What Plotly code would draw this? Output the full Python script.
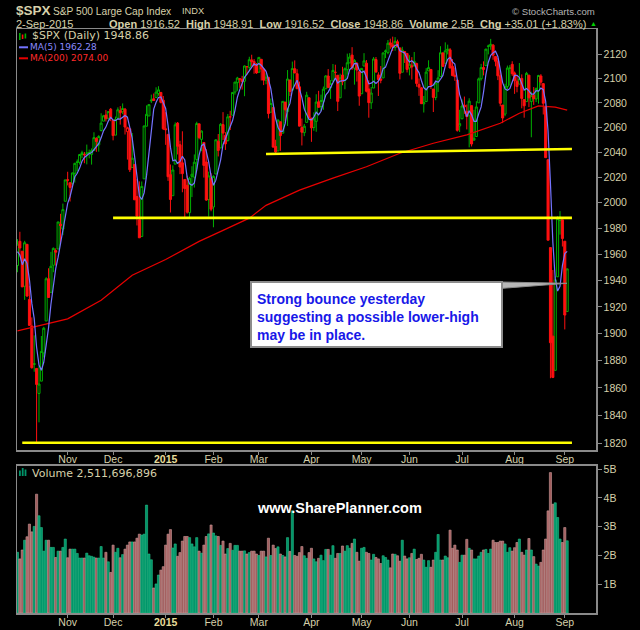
import numpy as np
import pandas as pd
import plotly.graph_objects as go

# ---------------- data ----------------
month_labels = ["Oct", "Nov", "Dec", "2015", "Feb", "Mar", "Apr", "May", "Jun", "Jul", "Aug", "Sep"]
month_sessions = [21, 19, 22, 20, 19, 22, 21, 20, 22, 22, 21, 2]   # trading sessions shown per month

prior_closes = [1977.80, 1972.29, 1946.16, 1946.17]   # sessions before the window (for MA5)

opens = [
    1951.4, 1970.0, 1962.4, 1935.6, 1967.7, 1925.6, 1905.7, 1877.1, 1874.2, 1855.9, 1864.9, 1885.6, 1909.4, 1941.3, 1931.0, 1951.6, 1962.9, 1964.1, 1983.3, 1979.5, 2001.2,
    2018.2, 2015.8, 2015.3, 2023.3, 2032.4, 2032.0, 2038.2, 2037.8, 2039.2, 2039.7, 2038.3, 2041.5, 2051.2, 2045.9, 2057.5, 2065.1, 2070.1, 2067.4, 2074.8,
    2065.8, 2053.8, 2067.5, 2073.6, 2072.8, 2074.8, 2056.6, 2058.9, 2027.9, 2030.4, 2005.0, 1986.7, 1973.8, 2018.9, 2061.0, 2069.3, 2081.5, 2083.3, 2084.3, 2087.6, 2088.5, 2082.1,
    2058.9, 2054.4, 2022.2, 2005.6, 2030.6, 2063.5, 2046.1, 2031.6, 2018.4, 2013.8, 1992.3, 2020.8, 2020.2, 2034.3, 2062.9, 2050.4, 2047.9, 2032.3, 2002.5, 2019.4,
    1996.7, 2022.7, 2048.9, 2043.5, 2062.3, 2053.5, 2049.4, 2068.6, 2069.9, 2088.8, 2096.5, 2099.2, 2099.3, 2097.7, 2109.8, 2109.1, 2115.3, 2113.9, 2110.9,
    2105.2, 2115.8, 2107.7, 2098.5, 2100.9, 2072.3, 2076.1, 2044.7, 2041.1, 2064.6, 2055.4, 2080.6, 2072.8, 2098.7, 2090.3, 2108.0, 2103.9, 2093.1, 2059.9, 2055.8, 2064.1, 2084.1,
    2067.6, 2060.0, 2064.9, 2080.8, 2076.9, 2081.3, 2091.5, 2102.0, 2092.3, 2097.8, 2105.0, 2102.6, 2084.1, 2102.8, 2098.3, 2107.2, 2112.8, 2119.3, 2108.4, 2112.5, 2105.5,
    2087.4, 2110.2, 2112.6, 2091.3, 2080.0, 2092.1, 2115.6, 2102.9, 2099.6, 2100.4, 2122.1, 2121.3, 2129.5, 2127.8, 2125.6, 2130.4, 2125.3, 2105.1, 2122.3, 2120.7,
    2108.6, 2110.4, 2110.6, 2112.4, 2095.1, 2092.3, 2079.1, 2081.0, 2106.2, 2107.4, 2091.3, 2084.3, 2097.4, 2101.6, 2121.1, 2112.5, 2123.2, 2123.7, 2110.0, 2102.6, 2098.6, 2061.2,
    2067.0, 2078.0, 2073.0, 2069.5, 2077.7, 2049.7, 2052.7, 2080.0, 2099.7, 2109.0, 2110.6, 2126.8, 2126.9, 2127.6, 2118.2, 2114.2, 2102.2, 2078.2, 2070.8, 2093.3, 2108.2, 2111.6,
    2104.5, 2097.7, 2095.3, 2100.0, 2082.6, 2081.0, 2102.7, 2081.1, 2086.2, 2083.2, 2089.7, 2102.0, 2095.7, 2076.6, 2034.1, 1965.2, 1898.1, 1872.8, 1942.8, 1986.1, 1986.7,
    1970.1, 1916.5,
]
highs = [
    1971.7, 1977.4, 1962.4, 1970.4, 1967.7, 1936.0, 1912.1, 1898.7, 1874.2, 1876.0, 1898.2, 1905.0, 1942.5, 1949.3, 1961.9, 1965.3, 1964.6, 1985.1, 1991.4, 1999.4, 2018.2,
    2024.5, 2015.9, 2023.8, 2031.6, 2034.3, 2038.7, 2041.3, 2040.3, 2046.2, 2042.2, 2043.1, 2056.1, 2052.1, 2053.8, 2071.5, 2070.2, 2074.2, 2073.3, 2075.8,
    2065.8, 2068.8, 2076.3, 2077.3, 2079.5, 2075.8, 2060.6, 2058.9, 2055.5, 2030.4, 2018.7, 2016.9, 2016.8, 2061.3, 2077.9, 2078.8, 2086.7, 2087.6, 2092.7, 2093.6, 2088.5, 2085.6,
    2072.4, 2054.4, 2030.3, 2029.6, 2064.1, 2064.4, 2049.3, 2056.9, 2018.4, 2021.4, 2020.5, 2028.9, 2038.3, 2064.6, 2062.9, 2057.6, 2047.9, 2042.5, 2024.6, 2023.3,
    2021.7, 2050.3, 2054.7, 2063.6, 2072.4, 2056.2, 2070.9, 2073.5, 2088.5, 2097.0, 2101.3, 2100.2, 2102.1, 2110.6, 2110.1, 2117.9, 2119.6, 2116.0, 2112.7,
    2117.5, 2115.8, 2107.7, 2104.3, 2100.9, 2083.5, 2076.1, 2050.1, 2066.4, 2064.6, 2081.4, 2080.6, 2106.9, 2098.7, 2113.9, 2114.9, 2107.6, 2097.4, 2067.2, 2062.8, 2089.0, 2084.1,
    2067.6, 2072.2, 2087.0, 2089.8, 2086.7, 2093.3, 2102.6, 2107.7, 2098.6, 2111.9, 2111.3, 2102.6, 2103.9, 2109.6, 2109.0, 2120.5, 2120.9, 2125.9, 2116.0, 2113.6, 2105.5,
    2108.4, 2120.9, 2115.2, 2098.4, 2092.9, 2117.7, 2117.7, 2105.1, 2110.2, 2121.5, 2123.9, 2131.8, 2133.0, 2134.7, 2134.3, 2132.2, 2125.3, 2126.2, 2122.3, 2120.7,
    2119.2, 2117.6, 2121.9, 2112.9, 2100.0, 2093.0, 2085.6, 2108.5, 2115.0, 2107.4, 2091.3, 2097.4, 2106.8, 2126.7, 2121.6, 2129.9, 2128.0, 2125.1, 2116.0, 2108.9, 2098.6, 2074.3,
    2082.8, 2085.1, 2078.6, 2083.7, 2077.7, 2074.3, 2081.3, 2100.7, 2112.0, 2114.1, 2124.4, 2128.0, 2132.8, 2128.5, 2118.5, 2116.9, 2106.0, 2078.2, 2095.6, 2110.6, 2111.0, 2114.2,
    2105.7, 2102.5, 2112.7, 2103.3, 2082.6, 2105.4, 2102.7, 2089.1, 2092.9, 2092.5, 2102.9, 2103.5, 2096.2, 2076.6, 2034.1, 1965.2, 1948.0, 1943.1, 1989.6, 1993.5, 1986.7,
    1970.1, 1948.9,
]
lows = [
    1946.3, 1958.4, 1935.1, 1925.3, 1927.6, 1906.1, 1874.1, 1871.8, 1820.7, 1835.0, 1864.9, 1882.3, 1909.4, 1927.1, 1931.0, 1946.3, 1951.4, 1964.1, 1969.0, 1974.8, 2001.2,
    2013.7, 2001.0, 2014.0, 2015.9, 2025.1, 2030.2, 2035.3, 2031.3, 2030.4, 2035.2, 2030.2, 2041.5, 2040.4, 2040.5, 2056.8, 2065.1, 2064.8, 2066.4, 2065.1,
    2049.6, 2053.8, 2066.6, 2062.3, 2070.8, 2054.3, 2034.2, 2024.3, 2027.9, 2002.3, 1982.3, 1972.6, 1973.8, 2018.9, 2061.0, 2069.3, 2079.8, 2081.8, 2084.3, 2085.8, 2079.5, 2057.9,
    2046.0, 2017.3, 1992.4, 2005.6, 2030.6, 2038.3, 2022.6, 2008.3, 1988.4, 1991.5, 1988.1, 2004.5, 2012.0, 2026.4, 2050.5, 2040.9, 2019.9, 2001.5, 1989.2, 1993.4,
    1980.9, 2022.7, 2036.7, 2043.5, 2049.9, 2041.9, 2048.6, 2057.9, 2069.9, 2086.7, 2089.8, 2092.2, 2090.8, 2085.4, 2103.0, 2105.9, 2109.9, 2103.8, 2103.8,
    2104.5, 2098.3, 2094.5, 2095.2, 2067.3, 2072.2, 2044.1, 2039.7, 2041.1, 2041.2, 2055.4, 2065.1, 2061.2, 2085.6, 2090.3, 2104.4, 2091.5, 2061.0, 2045.5, 2053.0, 2064.1, 2067.0,
    2048.4, 2057.3, 2056.5, 2076.1, 2073.3, 2074.3, 2091.5, 2092.3, 2083.2, 2097.8, 2100.0, 2073.3, 2084.1, 2094.4, 2091.1, 2103.2, 2112.8, 2107.0, 2094.9, 2097.4, 2077.6,
    2087.4, 2110.2, 2088.5, 2067.9, 2075.0, 2092.1, 2104.6, 2085.6, 2096.0, 2100.4, 2116.8, 2120.0, 2124.5, 2122.6, 2122.9, 2126.0, 2099.2, 2105.1, 2112.8, 2104.9,
    2102.5, 2099.1, 2109.6, 2093.2, 2085.7, 2079.1, 2072.1, 2081.0, 2106.2, 2091.3, 2072.5, 2082.1, 2088.9, 2101.6, 2109.5, 2112.5, 2119.9, 2108.5, 2101.8, 2098.0, 2056.6, 2056.3,
    2067.0, 2071.0, 2058.4, 2044.0, 2044.7, 2049.7, 2052.7, 2080.0, 2098.2, 2102.5, 2110.6, 2119.9, 2123.7, 2115.4, 2110.0, 2098.6, 2077.1, 2063.5, 2069.1, 2091.1, 2094.1, 2102.1,
    2087.3, 2088.6, 2095.3, 2075.5, 2067.9, 2081.0, 2076.5, 2052.1, 2078.3, 2080.6, 2079.3, 2094.1, 2070.5, 2035.7, 1970.8, 1867.0, 1867.1, 1872.8, 1942.8, 1975.2, 1966.0,
    1903.1, 1916.5,
]
closes = [
    1967.90, 1964.82, 1935.10, 1968.89, 1928.21, 1906.13, 1874.74, 1877.70, 1862.49, 1862.76, 1886.76, 1904.01, 1941.28, 1927.11, 1950.82, 1964.58, 1961.63, 1985.05, 1982.30, 1994.65, 2018.05,
    2017.81, 2012.10, 2023.57, 2031.21, 2031.92, 2038.26, 2039.68, 2038.25, 2039.33, 2039.82, 2041.32, 2051.80, 2048.72, 2052.75, 2063.50, 2069.41, 2067.03, 2072.83, 2067.56,
    2053.44, 2066.55, 2074.33, 2071.92, 2075.37, 2060.31, 2059.82, 2026.14, 2035.33, 2002.33, 1989.63, 1972.74, 2012.89, 2061.23, 2070.65, 2078.54, 2082.17, 2081.88, 2088.77, 2090.57, 2080.35, 2058.90,
    2058.20, 2020.58, 2002.61, 2025.90, 2062.14, 2044.81, 2028.26, 2023.03, 2011.27, 1992.67, 2019.42, 2022.55, 2032.12, 2063.15, 2051.82, 2057.09, 2029.55, 2002.16, 2021.25, 1994.99,
    2020.85, 2050.03, 2041.51, 2062.52, 2055.47, 2046.74, 2068.59, 2068.53, 2088.48, 2096.99, 2100.34, 2099.68, 2097.45, 2110.30, 2109.66, 2115.48, 2113.86, 2110.74, 2104.50,
    2117.39, 2107.78, 2098.53, 2101.04, 2071.26, 2079.43, 2044.16, 2040.24, 2065.95, 2053.40, 2081.19, 2074.28, 2099.50, 2089.27, 2108.10, 2104.42, 2091.50, 2061.05, 2056.15, 2061.02, 2086.24, 2067.89,
    2059.69, 2066.96, 2080.62, 2076.33, 2081.90, 2091.18, 2102.06, 2092.43, 2095.84, 2106.63, 2104.99, 2081.18, 2100.40, 2097.29, 2107.96, 2112.93, 2117.69, 2108.92, 2114.76, 2106.85, 2085.51,
    2108.29, 2114.49, 2089.46, 2080.15, 2088.00, 2116.10, 2105.33, 2099.12, 2098.48, 2121.10, 2122.73, 2129.20, 2127.83, 2125.85, 2130.82, 2126.06, 2104.20, 2123.48, 2120.79, 2107.39,
    2111.73, 2109.60, 2114.07, 2095.84, 2092.83, 2079.28, 2080.15, 2105.20, 2108.86, 2094.11, 2084.43, 2096.29, 2100.44, 2121.24, 2109.99, 2122.85, 2124.20, 2108.58, 2102.31, 2101.49, 2057.64, 2063.11,
    2077.42, 2076.78, 2068.76, 2081.34, 2046.68, 2051.31, 2076.62, 2099.60, 2108.95, 2107.40, 2124.29, 2126.64, 2128.28, 2119.21, 2114.15, 2102.15, 2079.65, 2067.64, 2093.25, 2108.57, 2108.63, 2103.84,
    2098.04, 2093.32, 2099.84, 2083.56, 2077.57, 2104.18, 2084.07, 2086.05, 2083.39, 2091.54, 2102.44, 2096.92, 2079.61, 2035.73, 1970.89, 1893.21, 1867.61, 1940.51, 1987.66, 1988.87, 1972.18,
    1913.85, 1948.86,
]
volumes_b = [
    2.11, 1.88, 2.19, 2.53, 2.65, 3.09, 2.82, 3.01, 4.13, 3.38, 2.97, 2.15, 2.53, 2.53, 2.28, 2.28, 1.93, 2.15, 2.15, 2.28, 2.57,
    1.92, 2.22, 2.22, 2.22, 2.07, 1.91, 1.91, 1.91, 2.08, 1.99, 1.97, 1.94, 1.91, 1.91, 2.31, 1.91, 2.11, 1.78, 1.41,
    2.36, 2.11, 2.25, 1.92, 2.03, 2.22, 2.36, 2.47, 2.47, 2.47, 2.60, 2.74, 2.71, 2.74, 3.75, 2.05, 1.85, 0.87, 1.01, 1.32, 1.49, 1.61,
    2.36, 2.74, 2.90, 2.26, 2.40, 1.97, 2.10, 2.50, 2.66, 2.66, 2.62, 2.40, 2.30, 2.62, 2.15, 2.08, 2.36, 2.66, 2.75, 3.06,
    2.78, 2.68, 2.66, 2.35, 2.50, 2.05, 2.24, 2.42, 2.18, 2.35, 2.35, 2.15, 2.15, 2.16, 2.05, 2.10, 2.15, 2.15, 2.05,
    2.00, 2.15, 2.15, 1.95, 2.60, 2.00, 2.36, 2.24, 2.30, 2.05, 2.00, 1.95, 2.62, 2.14, 3.55, 2.00, 1.97, 2.10, 2.31, 1.99, 1.90, 2.10,
    2.25, 1.88, 1.78, 1.90, 2.01, 1.82, 2.21, 2.21, 2.01, 2.34, 1.90, 2.07, 2.07, 2.33, 2.15, 2.34, 2.25, 2.42, 2.57, 2.11, 1.80,
    2.25, 2.28, 2.11, 2.07, 1.84, 2.04, 1.93, 1.88, 1.72, 1.99, 1.93, 1.84, 1.57, 2.05, 2.04, 1.99, 1.80, 2.53, 1.98, 1.88,
    1.92, 2.07, 2.22, 1.86, 1.90, 2.04, 1.84, 1.59, 1.82, 1.59, 1.84, 2.11, 2.73, 1.84, 1.84, 1.98, 1.92, 2.88, 2.25, 2.36, 2.19, 1.76,
    2.01, 2.01, 2.56, 2.25, 2.19, 1.88, 1.88, 1.98, 2.11, 2.19, 2.21, 2.07, 2.22, 2.53, 2.45, 2.45, 2.50, 2.50, 2.40, 2.11, 2.27, 2.15,
    2.27, 2.45, 2.57, 2.11, 2.01, 2.19, 2.59, 2.19, 1.96, 1.70, 1.63, 1.76, 2.19, 2.57, 3.55, 4.88, 3.78, 3.83, 3.32, 2.57, 2.45,
    2.97, 2.51,
]
# 200-day moving average at a few sessions
ma200_session = [0, 21, 35, 48, 62, 76, 86, 97, 104, 118, 132, 146, 160, 174, 188, 202, 210, 218, 225, 230]
ma200_value = [1902, 1911, 1925, 1944, 1956, 1970, 1978.5, 1988, 1998, 2010, 2019.5, 2028.5, 2039.3,
               2047.3, 2054, 2063.4, 2071.5, 2077.5, 2076.5, 2074.0]
# hand-drawn support lines (session, level) start and end
line_start_session = [2, 40, 104]
line_start_level = [1820.4, 1988.2, 2038.7]
line_end_session = [232, 232, 232]
line_end_level = [1820.4, 1988.2, 2042.7]

callout_text = "Strong bounce yesterday<br>suggesting a possible lower-high<br>may be in place."

# ---------------- build ----------------
n = len(closes)
assert len(opens) == n and len(highs) == n and len(lows) == n and len(volumes_b) == n == sum(month_sessions)
o = np.array(opens); c = np.array(closes)
h = np.maximum(np.array(highs), np.maximum(o, c))
l = np.minimum(np.array(lows), np.minimum(o, c))
sess = np.arange(n)
prev_c = np.concatenate([[prior_closes[-1]], c[:-1]])
up = c >= prev_c

all_c = pd.Series(prior_closes + closes)
ma5 = all_c.rolling(5).mean().to_numpy()[len(prior_closes):]

month_start = np.concatenate([[0], np.cumsum(month_sessions)[:-1]])
tickvals = list(month_start[1:])
ticktext = [("<b><span style='color:#e8dc9a'>%s</span></b>" % m) if m.isdigit() else m for m in month_labels[1:]]

GREEN = "#00b000"
RED = "#ff1010"
KHAKI = "#d6d0aa"
BORDER = "#8a8a8a"

W, H = 640, 630
ML, MR, MT, MB = 17, 44, 29, 17
PW, PH = W - ML - MR, H - MT - MB
def fx(px): return (px - ML) / PW
def fy(py): return (H - MB - py) / PH

fig = go.Figure()

for mask, col in [(up, GREEN), (~up, RED)]:
    fig.add_trace(go.Candlestick(
        x=sess[mask], open=o[mask], high=h[mask], low=l[mask], close=c[mask],
        increasing=dict(line=dict(color=col, width=1), fillcolor="black"),
        decreasing=dict(line=dict(color=col, width=1), fillcolor=col),
        whiskerwidth=0, hoverinfo="skip", showlegend=False, xaxis="x", yaxis="y"))

fig.add_trace(go.Scatter(x=ma200_session, y=ma200_value, mode="lines",
                         line=dict(color="#e80000", width=1.2), hoverinfo="skip",
                         showlegend=False, xaxis="x", yaxis="y"))
fig.add_trace(go.Scatter(x=sess, y=ma5, mode="lines",
                         line=dict(color="#7474ff", width=1.2), hoverinfo="skip",
                         showlegend=False, xaxis="x", yaxis="y"))

for x0, y0, x1, y1 in zip(line_start_session, line_start_level, line_end_session, line_end_level):
    fig.add_trace(go.Scatter(x=[x0, x1], y=[y0, y1], mode="lines",
                             line=dict(color="#ffff00", width=2.6), hoverinfo="skip",
                             showlegend=False, xaxis="x", yaxis="y"))

vol_fill = np.where(up, "#00956a", "#a25e5e")
vol_edge = np.where(up, "#25c088", "#cc9a9a")
fig.add_trace(go.Bar(x=sess, y=volumes_b, marker=dict(color=list(vol_fill),
                     line=dict(color=list(vol_edge), width=0.6)),
                     hoverinfo="skip", showlegend=False, xaxis="x2", yaxis="y2"))

axis_font = dict(family="Liberation Sans, Arial", size=10.5, color=KHAKI)
common_x = dict(range=[-0.2, -0.2 + PW / 2.39], tickmode="array", tickvals=tickvals, ticktext=ticktext,
                ticks="outside", ticklen=3, tickcolor=BORDER, showline=True, mirror=True,
                linecolor=BORDER, linewidth=1.5, showgrid=False, zeroline=False, tickfont=axis_font,
                automargin=False, ticklabelstandoff=-4)
price_ticks = list(range(1820, 2121, 20))

fig.update_layout(
    width=W, height=H, autosize=False,
    margin=dict(l=ML, r=MR, t=MT, b=MB, pad=0),
    paper_bgcolor="black", plot_bgcolor="black",
    font=dict(family="Liberation Sans, Arial", color=KHAKI),
    boxgap=0.1, boxgroupgap=0.05, bargap=0.1,
    xaxis=dict(common_x, domain=[0, 1], anchor="y", rangeslider=dict(visible=False)),
    yaxis=dict(domain=[fy(450), 1], type="log",
               range=[np.log10(1815.2), np.log10(2141.1)], side="right",
               tickmode="array", tickvals=price_ticks, ticktext=[str(v) for v in price_ticks],
               ticks="outside", ticklen=4, tickcolor=BORDER, showline=True, mirror=True,
               linecolor=BORDER, linewidth=1.5, showgrid=False, zeroline=False, tickfont=axis_font,
               automargin=False),
    xaxis2=dict(common_x, domain=[0, 1], anchor="y2", matches="x"),
    yaxis2=dict(domain=[0, fy(465.7)], range=[0, 5.12], side="right",
                tickmode="array", tickvals=[1, 2, 3, 4, 5], ticktext=["1B", "2B", "3B", "4B", "5B"],
                ticks="outside", ticklen=4, tickcolor=BORDER, showline=True, mirror=True,
                linecolor=BORDER, linewidth=1.5, showgrid=False, zeroline=False, tickfont=axis_font,
                automargin=False),
)

anns = []
def add_text(text, px, py, size, color=KHAKI, family="Liberation Sans, Arial", xanchor="left", align="left"):
    anns.append(dict(text=text, x=fx(px), y=fy(py), xref="paper", yref="paper",
                     xanchor=xanchor, yanchor="middle", showarrow=False, align=align,
                     font=dict(size=size, color=color, family=family), borderpad=0))

# header
add_text("<b>$SPX</b>", 15, 11, 13.5)
add_text("S&P 500 Large Cap Index", 52, 11.5, 10.2)
add_text("INDX", 181, 11.5, 9.3)
add_text("© StockCharts.com", 596, 11.5, 9.6, color="#b4b4b4", xanchor="right")
add_text("2-Sep-2015", 15, 23.5, 11)
add_text("<b>Open</b> 1916.52&nbsp; <b>High</b> 1948.91&nbsp; <b>Low</b> 1916.52&nbsp; "
         "<b>Close</b> 1948.86&nbsp; <b>Volume</b> 2.5B&nbsp; <b>Chg</b> +35.01 (+1.83%)",
         587, 23.5, 11, xanchor="right")
add_text("▲", 593, 23, 7, color="#00d000", xanchor="center")

# panel legends
add_text("$SPX (Daily) 1948.86", 31, 36, 11, family="DejaVu Sans")
add_text("MA(5) 1962.28", 29, 47.3, 9, color="#8a8aff", family="DejaVu Sans")
add_text("MA(200) 2074.00", 29, 58.3, 9, color="#ff2a2a", family="DejaVu Sans")
add_text("Volume 2,511,696,896", 31, 473, 11, family="DejaVu Sans")

# watermark
add_text("<b>www.SharePlanner.com</b>", 339, 507.5, 14.5, color="white", xanchor="center")

# callout text
add_text("<b>" + callout_text + "</b>", 256, 316.5, 14, color="#1818e8")

fig.update_layout(annotations=anns)

shapes = []
def rect(x0, y0, x1, y1, fill, line=None, lw=0):
    shapes.append(dict(type="rect", xref="paper", yref="paper", x0=fx(x0), x1=fx(x1), y0=fy(y1), y1=fy(y0),
                       fillcolor=fill, line=dict(color=line or fill, width=lw), layer="above"))

# legend icons
rect(19, 33, 20.6, 40, GREEN); rect(21.8, 34.5, 23.4, 39, RED); rect(24.6, 33.5, 26.2, 38.5, GREEN)
rect(19, 46.3, 28, 48.3, "#7474ff")
rect(19, 57.3, 28, 59.3, "#e80000")
rect(19, 470.5, 20.8, 476, "#00956a"); rect(21.8, 468, 23.6, 476, "#00956a"); rect(24.6, 469.5, 26.4, 476, "#00956a")

# callout box + pointer
shapes.append(dict(type="path", xref="paper", yref="paper",
                   path="M %f %f L %f %f L %f %f Z" % (fx(500), fy(282), fx(567), fy(283.3), fx(500), fy(288.5)),
                   fillcolor="#b8b8b8", line=dict(color="#8a8a8a", width=1), layer="above"))
rect(251, 282, 502, 347, "white", "#8c8c8c", 2)
fig.update_layout(shapes=shapes)

fig.write_html("out.html", config={"displayModeBar": False, "staticPlot": True},
               post_script="document.body.style.margin='0px';document.body.style.overflow='hidden';")
